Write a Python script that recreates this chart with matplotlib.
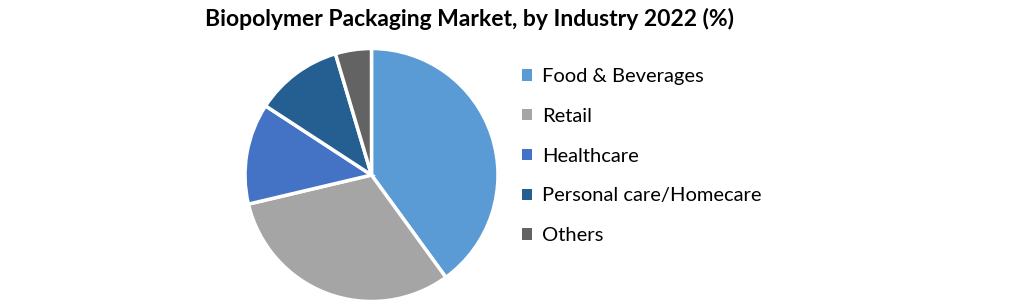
import matplotlib.pyplot as plt

labels = ["Food & Beverages", "Retail", "Healthcare", "Personal care/Homecare", "Others"]
shares = [40.0, 31.3, 12.9, 11.2, 4.6]
colors = ["#5B9BD5", "#A5A5A5", "#4472C4", "#255E91", "#636363"]

W, H = 1021, 304
fig = plt.figure(figsize=(W / 100, H / 100), dpi=100)

cx, cy, r = 371.5, 175, 126.5
ax = fig.add_axes([(cx - r) / W, (H - cy - r) / H, 2 * r / W, 2 * r / H])
wedges, _ = ax.pie(shares, colors=colors, startangle=90, counterclock=False,
                   radius=1, wedgeprops=dict(edgecolor="white", linewidth=2.5))
ax.set_xlim(-1, 1)
ax.set_ylim(-1, 1)
ax.set_aspect("equal")
ax.axis("off")

fig.text(469.5 / W, 1 - 19 / H, "Biopolymer Packaging Market, by Industry 2022 (%)",
         ha="center", va="center", fontsize=16.5, fontweight="bold", family="Lato")

leg = fig.legend(wedges, labels, loc="upper left", bbox_to_anchor=(504 / W, 1 - 50 / H),
                 frameon=False, handlelength=0.5, handleheight=0.5, handletextpad=0.5,
                 labelspacing=1.13, prop=dict(family="Lato", size=14.5))
for h in leg.legend_handles:
    h.set_edgecolor("none")

fig.savefig("out.png", dpi=100)
